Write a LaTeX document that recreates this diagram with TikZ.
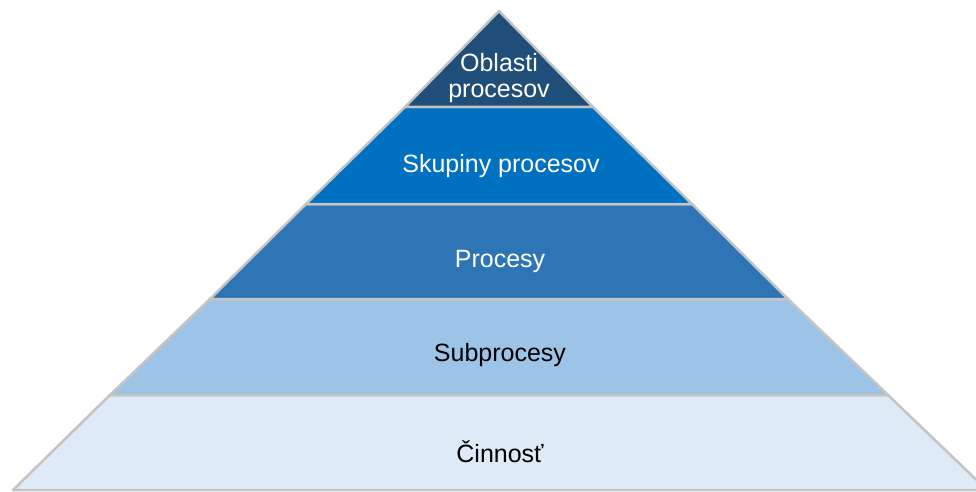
\documentclass[tikz,border=0pt]{standalone}
\usepackage{fontspec}
\setmainfont{Liberation Sans}
\definecolor{oblasti}{RGB}{31,78,121}
\definecolor{skupiny}{RGB}{0,112,192}
\definecolor{procesy}{RGB}{46,117,182}
\definecolor{subproc}{RGB}{157,195,230}
\definecolor{cinnost}{RGB}{222,235,247}
\definecolor{okraj}{RGB}{196,196,196}
\tikzset{vrstva/.style={draw=okraj,line width=2.5pt,line join=round},
  popis/.style={font=\fontsize{25}{26}\selectfont,anchor=base,align=center,inner sep=0pt}}
\begin{document}
\begin{tikzpicture}[x=1pt,y=-1pt]
    \useasboundingbox (0,0) rectangle (976,492);
    \begin{scope}
    \clip (0,0) rectangle (976,492);
    \draw[vrstva,fill=cinnost] (110,395) -- (888,395) -- (987,490) -- (13,490) -- cycle; %spodna vrstva
    \draw[vrstva,fill=subproc] (210,299) -- (788,299) -- (888,395) -- (110,395) -- cycle;
    \draw[vrstva,fill=procesy] (306,204) -- (692,204) -- (788,299) -- (210,299) -- cycle;
    \draw[vrstva,fill=skupiny] (405,107) -- (593,107) -- (692,204) -- (306,204) -- cycle;
    \draw[vrstva,fill=oblasti] (499,11) -- (593,107) -- (405,107) -- cycle; %vrchol
    \end{scope}
    \node[popis,text=white] (oblasti) at (499,98) {Oblasti\\procesov};
    \node[popis,text=white] (skupiny) at (501,172) {Skupiny procesov};
    \node[popis,text=white] (procesy) at (500,267) {Procesy};
    \node[popis] (subproc) at (500,361) {Subprocesy};
    \node[popis] (cinnost) at (500,462) {Činnosť};
  \end{tikzpicture}
\end{document}
